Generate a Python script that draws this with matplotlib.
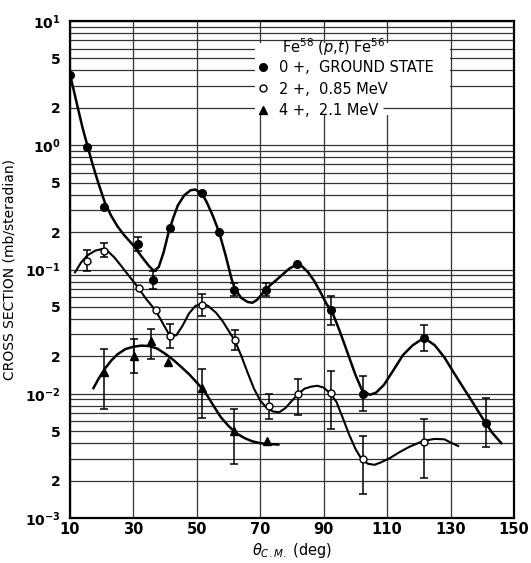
import numpy as np
import matplotlib
matplotlib.use('Agg')
import matplotlib.pyplot as plt
from matplotlib.lines import Line2D
from matplotlib.patches import Rectangle
from matplotlib.ticker import FixedLocator

plt.rcParams['font.family'] = ['DejaVu Sans']

# 0+, ground state (filled circles)
gs_x = [10, 15.5, 20.8, 31.5, 36.3, 41.5, 51.5, 57, 61.8, 71.7, 81.7, 92.2, 102.3, 121.5, 141.3]
gs_y = [3.7, 0.97, 0.32, 0.16, 0.083, 0.215, 0.41, 0.2, 0.069, 0.069, 0.11, 0.047, 0.010, 0.028, 0.0058]
gs_lo = [np.nan, np.nan, np.nan, 0.141, 0.070, np.nan, np.nan, np.nan, 0.061, 0.061, np.nan, 0.036, 0.0072, 0.022, 0.0037]
gs_hi = [np.nan, np.nan, np.nan, 0.182, 0.098, np.nan, np.nan, np.nan, 0.078, 0.078, np.nan, 0.061, 0.014, 0.036, 0.0092]

# 2+, 0.85 MeV (open circles)
ex_x = [15.3, 20.8, 31.8, 37.1, 41.5, 51.7, 62, 72.6, 81.8, 92.2, 102.3, 121.6]
ex_y = [0.118, 0.142, 0.071, 0.047, 0.029, 0.052, 0.027, 0.0079, 0.0100, 0.0101, 0.0030, 0.0041]
ex_lo = [0.097, 0.125, np.nan, np.nan, 0.0232, 0.0424, 0.0224, 0.0063, 0.0067, 0.0052, 0.00156, 0.0021]
ex_hi = [0.143, 0.162, np.nan, np.nan, 0.0362, 0.0638, 0.0325, 0.0099, 0.0132, 0.0153, 0.00458, 0.00628]

# 4+, 2.1 MeV (triangles)
tr_x = [20.8, 30.2, 35.6, 41, 51.7, 61.8, 72]
tr_y = [0.0149, 0.0202, 0.0264, 0.0179, 0.0112, 0.0050, 0.0042]
tr_lo = [0.00757, 0.0148, 0.0191, np.nan, 0.0064, 0.00272, np.nan]
tr_hi = [0.0231, 0.0278, 0.0334, np.nan, 0.0159, 0.00757, np.nan]

# hand-drawn curves
gs_cx = [10, 11, 12, 13, 14, 15.5, 17, 19, 21, 23, 25, 27, 30, 33, 35, 36.5, 38, 39.5, 41, 42.5, 44,
         46, 48, 49.5, 51.5, 53, 55, 57, 59, 61, 62, 64, 66, 67.5, 69, 71, 73, 75, 77, 79, 81.5, 83,
         85, 87, 89, 91, 92.5, 95, 97.5, 100, 102, 104.5, 106.5, 109, 112, 115, 118, 120.5, 122.5,
         125, 128, 131, 134, 137, 140, 143, 146]
gs_cy = [3.7, 2.9, 2.25, 1.75, 1.37, 0.99, 0.72, 0.49, 0.345, 0.27, 0.222, 0.19, 0.156, 0.123,
         0.106, 0.097, 0.105, 0.137, 0.195, 0.258, 0.328, 0.395, 0.434, 0.44, 0.41, 0.353, 0.272,
         0.2, 0.132, 0.083, 0.070, 0.059, 0.0548, 0.054, 0.057, 0.0655, 0.0743, 0.082, 0.091, 0.101,
         0.11, 0.107, 0.0955, 0.081, 0.0655, 0.0522, 0.0467, 0.0322, 0.0214, 0.0142, 0.0108, 0.0098,
         0.0102, 0.0118, 0.0155, 0.0205, 0.0245, 0.027, 0.0272, 0.0246, 0.0197, 0.0148, 0.0112,
         0.0085, 0.0064, 0.0049, 0.004]

ex_cx = [11.6, 13.5, 15.5, 18, 20, 22, 24, 26, 28.5, 31, 34, 37, 39.5, 41.5, 43.5, 45.5, 47.5, 49.5,
         51.5, 53.5, 56, 58, 60, 62, 64, 66, 68, 70, 72, 74, 76, 78, 80, 82, 84, 86, 88, 90, 92, 94,
         96, 98, 100, 102, 104, 106, 108, 111, 114, 117, 120, 122, 125, 128, 130.5, 132.4]
ex_cy = [0.095, 0.114, 0.13, 0.142, 0.146, 0.14, 0.125, 0.108, 0.0895, 0.0743, 0.058, 0.0467,
         0.036, 0.0292, 0.0295, 0.0353, 0.0442, 0.0508, 0.0532, 0.051, 0.045, 0.0388, 0.0322,
         0.0267, 0.0202, 0.0148, 0.011, 0.0088, 0.0077, 0.0072, 0.0071, 0.0077, 0.0088, 0.01,
         0.011, 0.0114, 0.0116, 0.0112, 0.0101, 0.0086, 0.0064, 0.0047, 0.0036, 0.00296, 0.00273,
         0.00268, 0.0028, 0.00305, 0.0034, 0.00374, 0.00403, 0.0042, 0.00433, 0.0043, 0.004, 0.0038]

tr_cx = [17.4, 19, 21, 23, 25, 27.5, 30, 32.5, 35, 37.5, 40, 42.5, 45, 47.5, 50, 52.5, 55, 57.5,
         60, 62.5, 65, 67.5, 70, 72, 75.7]
tr_cy = [0.0111, 0.0132, 0.0159, 0.0185, 0.0208, 0.0229, 0.0239, 0.0244, 0.0242, 0.0231, 0.021,
         0.0188, 0.0165, 0.0144, 0.0123, 0.0104, 0.0082, 0.0065, 0.0055, 0.0048, 0.0044, 0.00414,
         0.004, 0.00395, 0.0039]

ytick_vals = [1e1, 5, 2, 1e0, 0.5, 0.2, 1e-1, 0.05, 0.02, 1e-2, 0.005, 0.002, 1e-3]
ytick_labels = [r'$\mathbf{10^{1}}$', '5', '2', r'$\mathbf{10^{0}}$', '5', '2', r'$\mathbf{10^{-1}}$',
                '5', '2', r'$\mathbf{10^{-2}}$', '5', '2', r'$\mathbf{10^{-3}}$']
xtick_vals = [10, 30, 50, 70, 90, 110, 130, 150]

fig = plt.figure(figsize=(5.31, 5.63), dpi=100)
ax = fig.add_axes([70 / 531, 1 - 518 / 563, 444 / 531, 497 / 563])
ax.set_yscale('log')
ax.set_xlim(10, 150)
ax.set_ylim(1e-3, 1e1)

ax.yaxis.set_major_locator(FixedLocator(ytick_vals))
ax.set_yticklabels(ytick_labels)
minor = [m * 10.0 ** e for e in range(-3, 1) for m in (3, 4, 6, 7, 8, 9)]
ax.yaxis.set_minor_locator(FixedLocator(minor))
ax.yaxis.set_minor_formatter(plt.NullFormatter())
ax.set_xticks(xtick_vals)
ax.set_xticklabels([str(v) for v in xtick_vals])
ax.tick_params(which='both', length=0)
ax.tick_params(axis='y', pad=7, labelsize=10)
ax.tick_params(axis='x', pad=3, labelsize=10.5)
for lab in ax.get_xticklabels() + ax.get_yticklabels():
    lab.set_fontweight('bold')

ax.set_axisbelow(True)
ax.grid(True, which='both', axis='y', color='0.2', lw=0.9)
ax.grid(True, which='major', axis='x', color='0.2', lw=0.9)
for s in ax.spines.values():
    s.set_linewidth(1.6)

# white patch behind the key
ax.add_patch(Rectangle((68.3, 1.75), 61.5, 6.7 - 1.75, facecolor='white', edgecolor='none', zorder=1))
ax.hlines(2, 108.7, 130, color='0.2', lw=0.9, zorder=1.2)

# curves
ax.plot(gs_cx, gs_cy, color='black', lw=1.8, zorder=3)
ax.plot(ex_cx, ex_cy, color='black', lw=1.5, zorder=3)
ax.plot(tr_cx, tr_cy, color='black', lw=1.8, zorder=3)


def draw_points(x, y, lo, hi, **kw):
    x = np.array(x); y = np.array(y); lo = np.array(lo); hi = np.array(hi)
    m = ~np.isnan(lo)
    ax.errorbar(x[m], y[m], yerr=[y[m] - lo[m], hi[m] - y[m]], fmt='none', ecolor='black',
                elinewidth=1.1, capsize=2.8, capthick=1.1, zorder=4)
    ax.plot(x, y, linestyle='none', zorder=5, **kw)


draw_points(gs_x, gs_y, gs_lo, gs_hi, marker='o', ms=5.5, color='black')
draw_points(ex_x, ex_y, ex_lo, ex_hi, marker='o', ms=5, mfc='white', mec='black', mew=1.0)
draw_points(tr_x, tr_y, tr_lo, tr_hi, marker='^', ms=6, color='black')

# key
ax.text((282 - 70) / 444, (518 - 47) / 497, r'Fe$^{58}$ ($p$,$t$) Fe$^{56}$', transform=ax.transAxes,
        fontsize=10.5, va='center', ha='left', zorder=6)
handles = [Line2D([], [], ls='none', marker='o', ms=5.5, color='black'),
           Line2D([], [], ls='none', marker='o', ms=5, mfc='white', mec='black'),
           Line2D([], [], ls='none', marker='^', ms=6, color='black')]
labels = ['0 +,  GROUND STATE', '2 +,  0.85 MeV', '4 +,  2.1 MeV']
leg = ax.legend(handles, labels, loc='upper left', bbox_to_anchor=((256 - 70) / 444, (518 - 60) / 497),
                frameon=False, fontsize=10.5, borderpad=0, borderaxespad=0, handlelength=1.0,
                handletextpad=0.6, labelspacing=0.45)
leg.set_zorder(6)

ax.set_ylabel('CROSS SECTION (mb/steradian)', fontsize=10)
ax.yaxis.set_label_coords(-(70 - 16) / 444, 0.5)
ax.set_xlabel(r'$\theta_{C.M.}$ (deg)', fontsize=10.5)
ax.xaxis.set_label_coords(0.5, -(541 - 518) / 497)

fig.savefig('out.png', dpi=100)
